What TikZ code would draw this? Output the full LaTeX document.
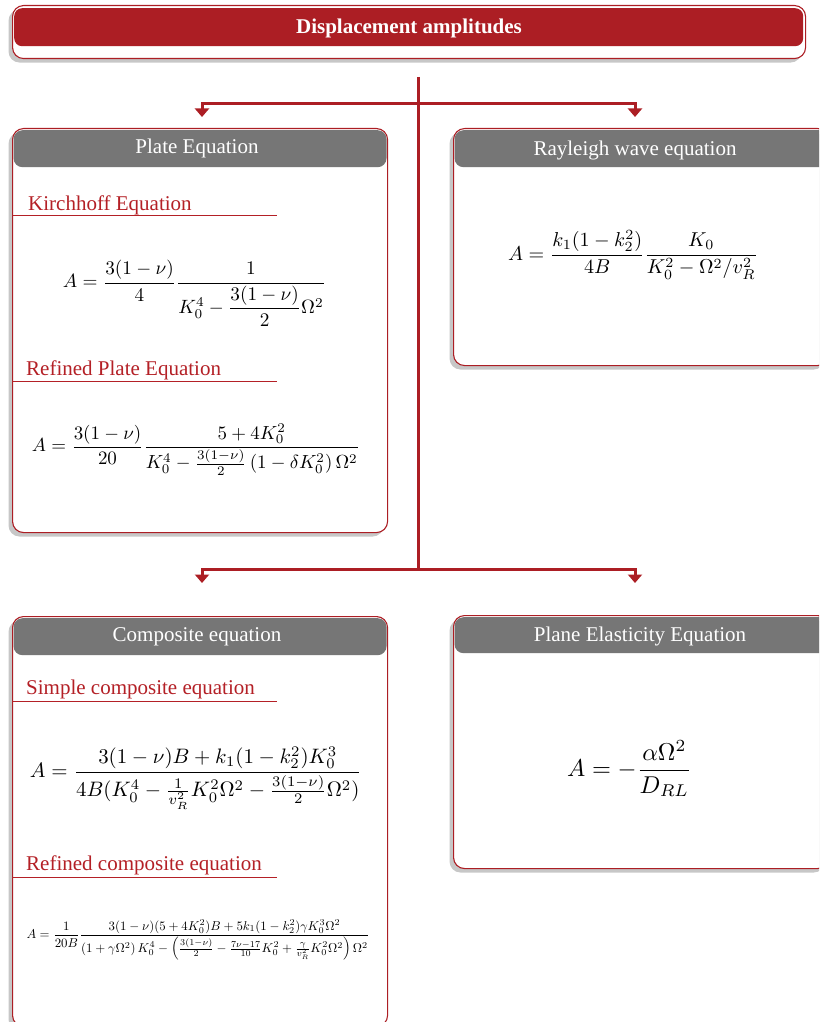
\documentclass[tikz,border=0pt]{standalone}
\usepackage[no-math]{fontspec}
\setmainfont{Liberation Serif}
\usepackage{amsmath}
\usepackage{graphicx}
\usetikzlibrary{arrows.meta,shadows}
\definecolor{dred}{RGB}{172,30,36}
\definecolor{tred}{RGB}{180,32,38}
\definecolor{hgray}{RGB}{118,118,118}
\begin{document}
\begin{tikzpicture}[x=1pt,y=-1pt,
  panel/.style={draw=dred, line width=1.1pt, fill=white, rounded corners=11pt,
    anchor=north west, inner sep=0pt,
    drop shadow={shadow xshift=-4pt, shadow yshift=-4pt, fill=black!22, opacity=1}},
  header/.style={fill=hgray, rounded corners=9pt, anchor=north, inner sep=0pt,
    minimum width=373pt, minimum height=37pt},
  htext/.style={text=white, inner sep=0pt, font=\fontsize{21}{24}\selectfont},
  sub/.style={text=tred, anchor=base west, inner sep=0pt,
    font=\fontsize{21}{24}\selectfont},
  subline/.style={draw=tred, line width=1pt},
  conn/.style={draw=dred, line width=3pt},
  tip/.style={-{Triangle[width=14pt,length=8.5pt]}},
  eq/.style={inner sep=0pt, anchor=center}
]
\path[use as bounding box] (0,0) rectangle (819,1022);
\clip (0,0) rectangle (819,1022);

% title
\node[panel, minimum width=793pt, minimum height=53pt] (title) at (12,5) {};
\node[fill=dred, rounded corners=8pt, anchor=north west, inner sep=0pt,
  minimum width=789pt, minimum height=38pt] (titlebar) at (14,8) {};
\node[htext, font=\bfseries\fontsize{21}{24}\selectfont] (titletext) at (409,28) {Displacement amplitudes};

% panels
\node[panel, minimum width=375pt, minimum height=404pt] (plate) at (12,128) {};
\node[header] (plateh) at ([yshift=-2pt]plate.north) {};
\node[htext] (platet) at (197,148.5) {Plate Equation};

\node[panel, minimum width=375pt, minimum height=237pt] (ray) at (453,128) {};
\node[header] (rayh) at ([yshift=-2pt]ray.north) {};
\node[htext] (rayt) at (635,150) {Rayleigh wave equation};

\node[panel, minimum width=375pt, minimum height=410pt] (comp) at (12,616) {};
\node[header] (comph) at ([yshift=-2pt]comp.north) {};
\node[htext] (compt) at (197,636.5) {Composite equation};

\node[panel, minimum width=375pt, minimum height=253pt] (plane) at (453,615) {};
\node[header, minimum height=36pt] (planeh) at ([yshift=-2pt]plane.north) {};
\node[htext] (planet) at (640,636) {Plane Elasticity Equation};

% connectors
\coordinate (top) at (418,77);
\coordinate (j1) at (418,104);
\coordinate (j2) at (418,569);
\coordinate (a1) at (202,117);
\coordinate (a2) at (635,117);
\coordinate (a3) at (202,583);
\coordinate (a4) at (635,583);
\draw[conn] (top) -- (j2);
\draw[conn, tip] (j1) -| (a1);
\draw[conn, tip] (j1) -| (a2);
\draw[conn, tip] (j2) -| (a3);
\draw[conn, tip] (j2) -| (a4);

% sub headings
\node[sub] (kirch) at (28,210) {Kirchhoff Equation};
\draw[subline] (12,215) -- (277,215);
\node[sub] (refp) at (26,375) {Refined Plate Equation};
\draw[subline] (12,381) -- (277,381);
\node[sub] (simc) at (26,694) {Simple composite equation};
\draw[subline] (12,701) -- (277,701);
\node[sub] (refc) at (26,870) {Refined composite equation};
\draw[subline] (12,877) -- (277,877);

% equations
\node[eq] (eqK) at (194.5,293.5) {\resizebox{263pt}{!}{$\displaystyle
  A=\frac{3(1-\nu)}{4}\frac{1}{K_0^4-\dfrac{3(1-\nu)}{2}\Omega^2}$}};
\node[eq] (eqRP) at (196,449.5) {\resizebox{328pt}{!}{$\displaystyle
  A=\frac{3(1-\nu)}{20}\frac{5+4K_0^2}{K_0^4-\frac{3(1-\nu)}{2}\left(1-\delta K_0^2\right)\Omega^2}$}};
\node[eq] (eqR) at (633,255) {\resizebox{250pt}{!}{$\displaystyle
  A=\frac{k_1(1-k_2^2)}{4B}\frac{K_0}{K_0^2-\Omega^2/v_R^2}$}};
\node[eq] (eqSC) at (196,778) {\resizebox{332pt}{!}{$\displaystyle
  A=\frac{3(1-\nu)B+k_1(1-k_2^2)K_0^3}{4B(K_0^4-\frac{1}{v_R^2}K_0^2\Omega^2-\frac{3(1-\nu)}{2}\Omega^2)}$}};
\node[eq] (eqRC) at (198,940) {\resizebox{343pt}{!}{$\displaystyle
  A=\frac{1}{20B}\frac{3(1-\nu)(5+4K_0^2)B+5k_1(1-k_2^2)\gamma K_0^3\Omega^2}{\left(1+\gamma\Omega^2\right)K_0^4-\left(\frac{3(1-\nu)}{2}-\frac{7\nu-17}{10}K_0^2+\frac{\gamma}{v_R^2}K_0^2\Omega^2\right)\Omega^2}$}};
\node[eq] (eqPE) at (629.5,768.5) {\resizebox{125pt}{!}{$\displaystyle
  A=-\frac{\alpha\Omega^2}{D_{RL}}$}};
\end{tikzpicture}
\end{document}
